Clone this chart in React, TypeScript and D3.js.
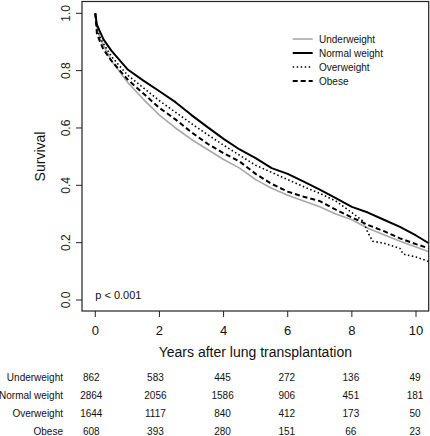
import React from "react";
import * as d3 from "d3";

const years = [0, 0.05, 0.15, 0.25, 0.5, 1, 1.5, 2, 2.5, 3, 3.5, 4, 4.5, 5, 5.5, 6, 6.5, 7, 7.5, 8, 8.5, 9, 9.5, 10, 10.4];
const underweight = [1.0, 0.95, 0.91, 0.89, 0.835, 0.76, 0.70, 0.645, 0.60, 0.56, 0.525, 0.49, 0.46, 0.42, 0.39, 0.365, 0.345, 0.325, 0.30, 0.28, 0.25, 0.228, 0.205, 0.185, 0.168];
const normalWeight = [1.0, 0.96, 0.935, 0.91, 0.87, 0.805, 0.765, 0.728, 0.69, 0.645, 0.603, 0.562, 0.525, 0.495, 0.46, 0.44, 0.413, 0.385, 0.355, 0.325, 0.305, 0.28, 0.255, 0.225, 0.198];
const overweightYears = [0, 0.05, 0.15, 0.25, 0.5, 1, 1.5, 2, 2.5, 3, 3.5, 4, 4.5, 5, 5.5, 6, 6.5, 7, 7.5, 8, 8.35, 8.5, 8.65, 9, 9.5, 9.6, 10, 10.4];
const overweight = [1.0, 0.95, 0.915, 0.895, 0.85, 0.785, 0.74, 0.695, 0.655, 0.615, 0.577, 0.54, 0.505, 0.47, 0.445, 0.42, 0.395, 0.372, 0.345, 0.305, 0.275, 0.235, 0.205, 0.198, 0.18, 0.16, 0.15, 0.134];
const obese = [1.0, 0.93, 0.9, 0.875, 0.835, 0.77, 0.72, 0.67, 0.63, 0.585, 0.545, 0.512, 0.483, 0.44, 0.405, 0.378, 0.36, 0.345, 0.315, 0.288, 0.262, 0.24, 0.215, 0.195, 0.18];

const groupNames = ["Underweight", "Normal weight", "Overweight", "Obese"];
const xTicks = [0, 2, 4, 6, 8, 10];
const yTicks = [0, 0.2, 0.4, 0.6, 0.8, 1.0];
const atRiskUnderweight = [862, 583, 445, 272, 136, 49];
const atRiskNormal = [2864, 2056, 1586, 906, 451, 181];
const atRiskOverweight = [1644, 1117, 840, 412, 173, 50];
const atRiskObese = [608, 393, 280, 151, 66, 23];

const FONT = "Liberation Sans, Arial, sans-serif";

export default function App() {
  const left = 82, right = 428.7, top = 1.5, bottom = 311;
  const x = d3.scaleLinear().domain([0, 10]).range([95.3, 416]);
  const y = d3.scaleLinear().domain([0, 1]).range([300, 13.3]);

  const series = [
    { name: groupNames[0], t: years, s: underweight, stroke: "#a8a8a8", width: 1.6, dash: "" },
    { name: groupNames[1], t: years, s: normalWeight, stroke: "#000", width: 2, dash: "" },
    { name: groupNames[2], t: overweightYears, s: overweight, stroke: "#000", width: 1.6, dash: "1.5,2.5" },
    { name: groupNames[3], t: years, s: obese, stroke: "#000", width: 2, dash: "5,3" },
  ];
  const line = d3.line<[number, number]>().x((d) => x(d[0])).y((d) => y(d[1]));
  const tables = [atRiskUnderweight, atRiskNormal, atRiskOverweight, atRiskObese];
  const rowBase = [381, 399, 417, 434.5];

  return (
    <svg width={430} height={436} style={{ position: "absolute", left: 0, top: 0, background: "#fff" }} fontFamily={FONT}>
      <rect x={0} y={0} width={430} height={436} fill="#fff" />
      {series.map((sr) => (
        <path
          key={sr.name}
          d={line(sr.t.map((t, i) => [t, sr.s[i]] as [number, number])) || ""}
          fill="none"
          stroke={sr.stroke}
          strokeWidth={sr.width}
          strokeDasharray={sr.dash}
          strokeLinejoin="round"
        />
      ))}
      <rect x={left} y={top} width={right - left} height={bottom - top} fill="none" stroke="#222" strokeWidth={1.2} />
      {yTicks.map((v) => (
        <g key={v}>
          <line x1={left} x2={left - 6} y1={y(v)} y2={y(v)} stroke="#222" />
          <text
            transform={`translate(${70},${y(v)}) rotate(-90)`}
            textAnchor="middle"
            fontSize={12}
            fill="#222"
          >
            {v.toFixed(1)}
          </text>
        </g>
      ))}
      {xTicks.map((v) => (
        <g key={v}>
          <line x1={x(v)} x2={x(v)} y1={bottom} y2={bottom + 6} stroke="#222" />
          <text x={x(v)} y={335} textAnchor="middle" fontSize={13} fill="#111">
            {v}
          </text>
        </g>
      ))}
      <text x={(left + right) / 2} y={357} textAnchor="middle" fontSize={14} fill="#111">
        Years after lung transplantation
      </text>
      <text transform={`translate(45,156.5) rotate(-90)`} textAnchor="middle" fontSize={14} fill="#111">
        Survival
      </text>
      <text x={x(0)} y={298.5} fontSize={11} fill="#111">
        p &lt; 0.001
      </text>
      {series.map((sr, i) => (
        <g key={"lg" + i}>
          <line x1={292.7} x2={312.7} y1={39 + i * 14} y2={39 + i * 14} stroke={sr.stroke} strokeWidth={sr.width} strokeDasharray={sr.dash} />
          <text x={319} y={42.6 + i * 14} fontSize={10} fill="#111">
            {sr.name}
          </text>
        </g>
      ))}
      {tables.map((row, r) => (
        <g key={"row" + r}>
          <text x={63} y={rowBase[r]} textAnchor="end" fontSize={10} fill="#111">
            {groupNames[r]}
          </text>
          {row.map((n, c) => (
            <text key={c} x={x(xTicks[c]) - (c < 2 ? 4 : 1)} y={rowBase[r]} textAnchor="middle" fontSize={10} fill="#111">
              {n}
            </text>
          ))}
        </g>
      ))}
    </svg>
  );
}
